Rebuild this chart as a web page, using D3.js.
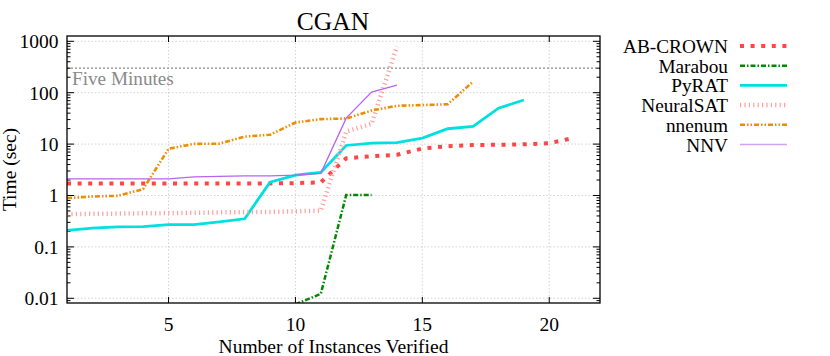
<!DOCTYPE html>
<html><head><meta charset="utf-8">
<script src="https://cdn.jsdelivr.net/npm/d3@7"></script>
<style>body{margin:0;background:#fff;} svg{display:block;}</style>
</head><body>
<svg id="c" width="830" height="356"></svg>
<script>
// ---- data (x = number of instances verified, starting at 1 unless noted) ----
const seriesNames = ["AB-CROWN", "Marabou", "PyRAT", "NeuralSAT", "nnenum", "NNV"];
const abcrownStart = 1;
const abcrown = [1.72,1.72,1.72,1.72,1.72,1.72,1.72,1.72,1.72,1.74,1.8,5.3,5.8,6.2,8.2,9.1,9.6,9.7,9.9,10.4,13.3];
const marabouStart = 10;
const marabou = [0.0076,0.0122,1.02,1.02];
const pyratStart = 1;
const pyrat = [0.21,0.232,0.246,0.249,0.27,0.272,0.308,0.352,1.82,2.5,2.8,9.4,10.4,10.7,13.1,19.9,22,50,72];
const neuralsatStart = 1;
const neuralsat = [0.435,0.44,0.445,0.45,0.455,0.46,0.47,0.475,0.48,0.49,0.51,17.5,24.8,790];
const nnenumStart = 1;
const nnenum = [0.89,0.955,0.985,1.33,8.1,10.1,10.2,14,15.2,26.3,30.6,31.5,45,55.6,57.5,59.5,165];
const nnvStart = 1;
const nnv = [2.1,2.1,2.1,2.1,2.1,2.3,2.35,2.4,2.4,2.5,2.7,32,103,140];
const xTicks = [5,10,15,20];
const yTicks = [0.01,0.1,1,10,100,1000];
const yTickLabels = ["0.01","0.1","1","10","100","1000"];
const fiveMinutes = 300;

const seriesData = [
  {name:"AB-CROWN", start:abcrownStart, vals:abcrown, color:"#ff4545", width:4, dash:"4,6.6"},
  {name:"Marabou", start:marabouStart, vals:marabou, color:"#008a00", width:2.5, dash:"5,2,1.5,2"},
  {name:"PyRAT", start:pyratStart, vals:pyrat, color:"#00e0e0", width:2.8, dash:null},
  {name:"NeuralSAT", start:neuralsatStart, vals:neuralsat, color:"#ffa0a0", width:4.5, dash:"1.2,3.2"},
  {name:"nnenum", start:nnenumStart, vals:nnenum, color:"#f08c00", width:2.6, dash:"5,2,1.5,2,1.5,2"},
  {name:"NNV", start:nnvStart, vals:nnv, color:"#b865ec", width:1.3, dash:null}
];

const svg = d3.select("#c");
const L=67, R=600, T=36, B=303;
const x = d3.scaleLinear().domain([1,22]).range([L,R]);
const y = d3.scaleLog().domain([0.0081,1268]).range([B,T]);
const font = "'Liberation Serif','Times New Roman',serif";
const fs = 19.5;

// grid
const g = svg.append("g");
xTicks.forEach(v=>{
  g.append("line").attr("x1",x(v)).attr("x2",x(v)).attr("y1",T).attr("y2",B)
   .attr("stroke","#c8c8c8").attr("stroke-width",0.8).attr("stroke-dasharray","1.5,2");
});
yTicks.forEach(v=>{
  g.append("line").attr("x1",L).attr("x2",R).attr("y1",y(v)).attr("y2",y(v))
   .attr("stroke","#c8c8c8").attr("stroke-width",0.8).attr("stroke-dasharray","1.5,2");
});

// five minutes line
g.append("line").attr("x1",L).attr("x2",R).attr("y1",y(fiveMinutes)).attr("y2",y(fiveMinutes))
  .attr("stroke","#8a8a8a").attr("stroke-width",1.3).attr("stroke-dasharray","2,2");
g.append("text").attr("x",L+5).attr("y",y(fiveMinutes)+17).text("Five Minutes")
  .attr("font-family",font).attr("font-size",19.2).attr("fill","#8a8a8a");

// ticks
const tk = svg.append("g").attr("stroke","#000").attr("stroke-width",1);
xTicks.forEach(v=>{
  tk.append("line").attr("x1",x(v)).attr("x2",x(v)).attr("y1",B).attr("y2",B-6);
  tk.append("line").attr("x1",x(v)).attr("x2",x(v)).attr("y1",T).attr("y2",T+6);
});
for(let e=-3;e<=3;e++){
  for(let m=1;m<=9;m++){
    const v = m*Math.pow(10,e);
    if(v<0.0081||v>1268) continue;
    const len = m===1?7:3.5;
    tk.append("line").attr("x1",L).attr("x2",L+len).attr("y1",y(v)).attr("y2",y(v));
    tk.append("line").attr("x1",R).attr("x2",R-len).attr("y1",y(v)).attr("y2",y(v));
  }
}

// tick labels
xTicks.forEach(v=>{
  svg.append("text").attr("x",x(v)).attr("y",331).attr("text-anchor","middle")
   .attr("font-family",font).attr("font-size",fs).text(v);
});
yTicks.forEach((v,i)=>{
  svg.append("text").attr("x",58.5).attr("y",y(v)+7).attr("text-anchor","end")
   .attr("font-family",font).attr("font-size",fs).text(yTickLabels[i]);
});

// clip
svg.append("defs").append("clipPath").attr("id","pc").append("rect")
  .attr("x",L).attr("y",T).attr("width",R-L).attr("height",B-T);

const line = d3.line().x(d=>x(d[0])).y(d=>y(d[1]));
const pg = svg.append("g").attr("clip-path","url(#pc)");
seriesData.forEach(s=>{
  const pts = s.vals.map((v,i)=>[s.start+i, v]);
  pg.append("path").attr("d",line(pts)).attr("fill","none")
    .attr("stroke",s.color).attr("stroke-width",s.width)
    .attr("stroke-dasharray",s.dash).attr("stroke-linejoin","miter");
});

// border
svg.append("rect").attr("x",L).attr("y",T).attr("width",R-L).attr("height",B-T)
  .attr("fill","none").attr("stroke","#000").attr("stroke-width",1.3);

// title and axis labels
svg.append("text").attr("x",333).attr("y",30).attr("text-anchor","middle")
  .attr("font-family",font).attr("font-size",25.5).text("CGAN");
svg.append("text").attr("x",(L+R)/2).attr("y",353).attr("text-anchor","middle")
  .attr("font-family",font).attr("font-size",fs).text("Number of Instances Verified");
svg.append("text").attr("transform",`translate(15.5,${(T+B)/2}) rotate(-90)`).attr("text-anchor","middle")
  .attr("font-family",font).attr("font-size",fs).text("Time (sec)");

// legend
seriesData.forEach((s,i)=>{
  const ly = 46 + i*19.7;
  svg.append("text").attr("x",728).attr("y",ly+7).attr("text-anchor","end")
    .attr("font-family",font).attr("font-size",19.3).text(s.name);
  svg.append("line").attr("x1",740).attr("x2",787).attr("y1",ly).attr("y2",ly)
    .attr("stroke",s.color).attr("stroke-width",s.width).attr("stroke-dasharray",s.dash)
    .attr("opacity", s.name==="NNV"?0.6:1);
});
</script>
</body></html>
